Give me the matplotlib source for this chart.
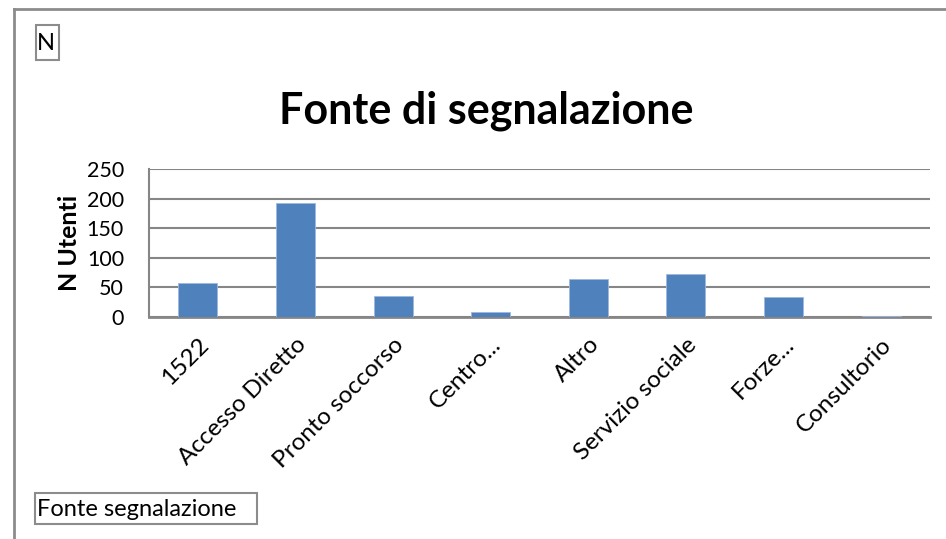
import matplotlib
matplotlib.use("Agg")
import matplotlib.pyplot as plt
from matplotlib.lines import Line2D
from matplotlib.patches import Rectangle
import numpy as np

categories = ["1522", "Accesso Diretto", "Pronto soccorso", "Centro...", "Altro",
              "Servizio sociale", "Forze...", "Consultorio"]
values = [57, 193, 35, 9, 64, 72, 33, 1]
yticks = [0, 50, 100, 150, 200, 250]

plt.rcParams['font.family'] = ['Lato', 'DejaVu Sans']

W, H = 946, 539
fig = plt.figure(figsize=(W / 100, H / 100), dpi=100)

def px(x0, y0, x1, y1):
    # pixel box (top-left origin) -> figure fraction [l, b, w, h]
    return [x0 / W, 1 - y1 / H, (x1 - x0) / W, (y1 - y0) / H]

ax = fig.add_axes(px(149, 169, 930, 317))
x = np.arange(len(categories))
ax.bar(x, values, width=0.4, color="#4F81BD", edgecolor="#9DB9DE", linewidth=0.6, zorder=3)
ax.set_xlim(-0.5, len(categories) - 0.5)
ax.set_ylim(0, 250)
ax.set_yticks(yticks)
ax.set_yticklabels([str(v) for v in yticks], fontsize=15.5)
ax.set_xticks(x)
ax.set_xticklabels(categories, rotation=45, ha="right", va="top",
                   rotation_mode="anchor", fontsize=17.5)
ax.tick_params(axis="both", length=0)
ax.tick_params(axis="y", pad=18)
ax.tick_params(axis="x", pad=12)
ax.grid(axis="y", color="#868686", linewidth=1.5, zorder=0)
for side in ["top", "right"]:
    ax.spines[side].set_visible(False)
ax.spines["left"].set_color("#868686")
ax.spines["left"].set_linewidth(1.5)
ax.spines["bottom"].set_color("#868686")
ax.spines["bottom"].set_linewidth(2)
ax.set_ylabel("N Utenti", fontsize=18, fontweight="bold", labelpad=4)

fig.text(486 / W, 1 - 111 / H, "Fonte di segnalazione", fontsize=31,
         fontweight="bold", ha="center", va="center")

# text boxes
for (x0, y0, x1, y1) in [(36, 25, 59, 60), (35, 493, 257, 524)]:
    l, b, w, h = px(x0, y0, x1, y1)
    fig.add_artist(Rectangle((l, b), w, h, transform=fig.transFigure,
                             facecolor="white", edgecolor="#8c8c8c", linewidth=1.5))
fig.text(37 / W, 1 - 44 / H, "N", fontsize=17, ha="left", va="center")
fig.text(37 / W, 1 - 510 / H, "Fonte segnalazione", fontsize=17, ha="left", va="center")

# outer chart border (left and top edges)
fig.add_artist(Line2D([14 / W, 14 / W], [0, 1 - 9 / H], transform=fig.transFigure,
                      color="#8c8c8c", linewidth=2))
fig.add_artist(Line2D([14 / W, 1], [1 - 9 / H, 1 - 9 / H], transform=fig.transFigure,
                      color="#8c8c8c", linewidth=2))

fig.savefig("out.png", dpi=100)
